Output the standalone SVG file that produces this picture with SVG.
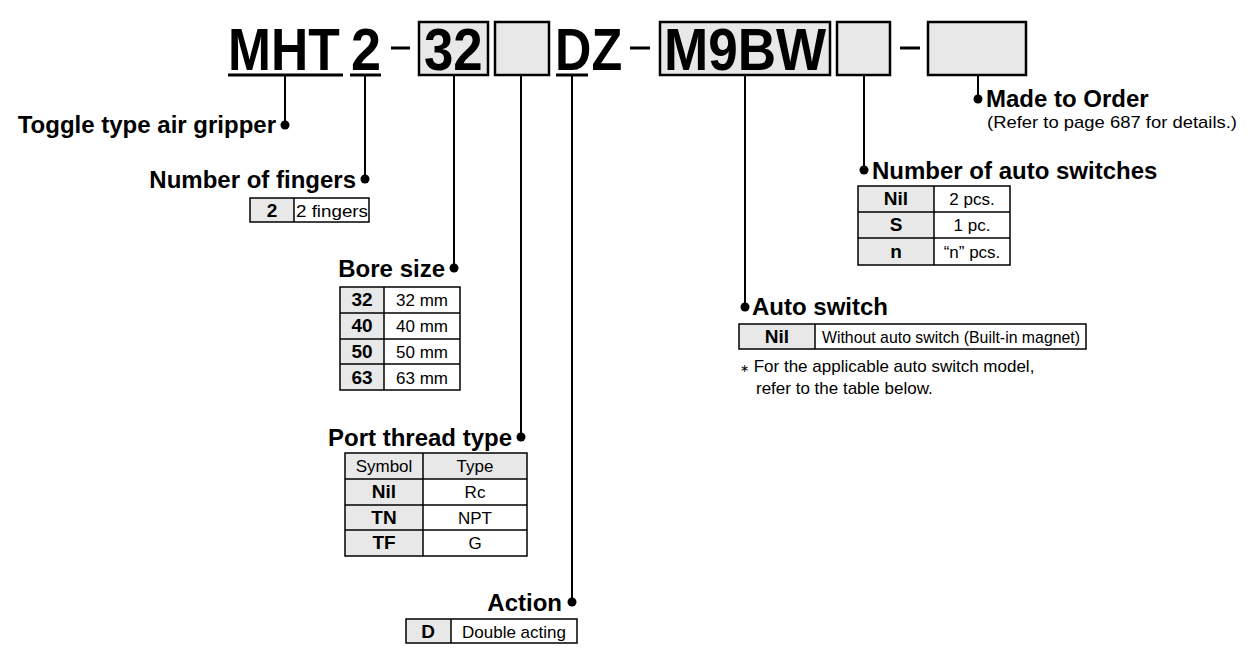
<svg xmlns="http://www.w3.org/2000/svg" width="1251" height="654" viewBox="0 0 1251 654">
<style>
.code{font-family:"Liberation Sans",Arial,sans-serif;font-weight:bold;font-size:60px;fill:#000}
.lbl{font-family:"Liberation Sans",Arial,sans-serif;font-weight:bold;font-size:24px;fill:#000}
.cb{font-family:"Liberation Sans",Arial,sans-serif;font-weight:bold;font-size:19px;fill:#000;text-anchor:middle}
.cr{font-family:"Liberation Sans",Arial,sans-serif;font-size:17px;fill:#000;text-anchor:middle}
.note{font-family:"Liberation Sans",Arial,sans-serif;font-size:17px;fill:#000}
.box{fill:#e8e8e8;stroke:#000;stroke-width:2.5}
.g{fill:#e8e8e8}
.tb{fill:none;stroke:#000;stroke-width:1.5}
.ln{stroke:#000;stroke-width:2;fill:none}
.ul{stroke:#000;stroke-width:3}
.dot{fill:#000}
</style>
<rect width="1251" height="654" fill="#fff"/>
<g id="code">
<text class="code" transform="translate(228,70) scale(0.86,1)">MHT</text>
<line class="ul" x1="228" y1="75" x2="343" y2="75"/>
<text class="code" transform="translate(351,70) scale(0.9,1)">2</text>
<line class="ul" x1="350" y1="75" x2="381" y2="75"/>
<line class="ul" x1="391" y1="48" x2="410" y2="48"/>
<rect class="box" x="419" y="22" width="69" height="53"/>
<text class="code" transform="translate(424,70) scale(0.88,1)">32</text>
<rect class="box" x="495" y="22" width="54" height="53"/>
<text class="code" transform="translate(555,70) scale(0.84,1)">DZ</text>
<line class="ul" x1="556" y1="75" x2="588" y2="75"/>
<line class="ul" x1="630" y1="48" x2="650" y2="48"/>
<rect class="box" x="660" y="22" width="170" height="53"/>
<text class="code" transform="translate(664,70) scale(0.885,1)">M9BW</text>
<rect class="box" x="837" y="22" width="53" height="53"/>
<line class="ul" x1="900" y1="48" x2="920" y2="48"/>
<rect class="box" x="928" y="22" width="98" height="53"/>
</g>
<g id="connectors">
<line class="ln" x1="285" y1="76" x2="285" y2="125"/><circle class="dot" cx="285" cy="125" r="4.5"/>
<line class="ln" x1="365" y1="76" x2="365" y2="179"/><circle class="dot" cx="365" cy="179" r="4.5"/>
<line class="ln" x1="454" y1="76" x2="454" y2="268"/><circle class="dot" cx="454" cy="268" r="4.5"/>
<line class="ln" x1="521" y1="76" x2="521" y2="437"/><circle class="dot" cx="521" cy="437" r="4.5"/>
<line class="ln" x1="572" y1="76" x2="572" y2="602"/><circle class="dot" cx="572" cy="602" r="4.5"/>
<line class="ln" x1="745" y1="76" x2="745" y2="307"/><circle class="dot" cx="745" cy="307" r="4.5"/>
<line class="ln" x1="864" y1="76" x2="864" y2="170"/><circle class="dot" cx="864" cy="170" r="4.5"/>
<line class="ln" x1="978" y1="76" x2="978" y2="99"/><circle class="dot" cx="978" cy="99" r="4.5"/>
</g>
<g id="toggle">
<text class="lbl" x="276" y="133" text-anchor="end">Toggle type air gripper</text>
</g>
<g id="fingers">
<text class="lbl" x="356" y="188" text-anchor="end">Number of fingers</text>
<rect class="g" x="250" y="198" width="44" height="24"/>
<rect class="tb" x="250" y="198" width="119" height="24"/>
<line class="tb" x1="294" y1="198" x2="294" y2="222"/>
<text class="cb" x="272" y="217">2</text>
<text class="cr" x="332" y="217" textLength="72" lengthAdjust="spacingAndGlyphs">2 fingers</text>
</g>
<g id="bore">
<text class="lbl" x="445" y="277" text-anchor="end">Bore size</text>
<rect class="g" x="340" y="287" width="44" height="103"/>
<rect class="tb" x="340" y="287" width="120" height="103"/>
<line class="tb" x1="384" y1="287" x2="384" y2="390"/>
<line class="tb" x1="340" y1="313" x2="460" y2="313"/>
<line class="tb" x1="340" y1="339" x2="460" y2="339"/>
<line class="tb" x1="340" y1="364" x2="460" y2="364"/>
<text class="cb" x="362" y="306">32</text><text class="cr" x="422" y="306">32 mm</text>
<text class="cb" x="362" y="332">40</text><text class="cr" x="422" y="332">40 mm</text>
<text class="cb" x="362" y="358">50</text><text class="cr" x="422" y="358">50 mm</text>
<text class="cb" x="362" y="384">63</text><text class="cr" x="422" y="384">63 mm</text>
</g>
<g id="port">
<text class="lbl" x="512" y="446" text-anchor="end">Port thread type</text>
<rect class="g" x="345" y="453" width="182" height="26"/>
<rect class="g" x="345" y="479" width="78" height="77"/>
<rect class="tb" x="345" y="453" width="182" height="103"/>
<line class="tb" x1="423" y1="453" x2="423" y2="556"/>
<line class="tb" x1="345" y1="479" x2="527" y2="479"/>
<line class="tb" x1="345" y1="505" x2="527" y2="505"/>
<line class="tb" x1="345" y1="530" x2="527" y2="530"/>
<text class="cr" x="384" y="472">Symbol</text><text class="cr" x="475" y="472">Type</text>
<text class="cb" x="384" y="498">Nil</text><text class="cr" x="475" y="498">Rc</text>
<text class="cb" x="384" y="524">TN</text><text class="cr" x="475" y="524">NPT</text>
<text class="cb" x="384" y="549">TF</text><text class="cr" x="475" y="549">G</text>
</g>
<g id="action">
<text class="lbl" x="562" y="611" text-anchor="end">Action</text>
<rect class="g" x="406" y="619" width="45" height="24"/>
<rect class="tb" x="406" y="619" width="171" height="24"/>
<line class="tb" x1="451" y1="619" x2="451" y2="643"/>
<text class="cb" x="428" y="638">D</text>
<text class="cr" x="514" y="638">Double acting</text>
</g>
<g id="autoswitch">
<text class="lbl" x="752" y="315">Auto switch</text>
<rect class="g" x="739" y="324" width="76" height="25"/>
<rect class="tb" x="739" y="324" width="347" height="25"/>
<line class="tb" x1="815" y1="324" x2="815" y2="349"/>
<text class="cb" x="777" y="343">Nil</text>
<text class="cr" x="951" y="343" textLength="258" lengthAdjust="spacingAndGlyphs">Without auto switch (Built-in magnet)</text>
<text class="note" x="740" y="372"><tspan font-size="11">∗</tspan> For the applicable auto switch model,</text>
<text class="note" x="756" y="394">refer to the table below.</text>
</g>
<g id="numswitches">
<text class="lbl" x="872" y="179">Number of auto switches</text>
<rect class="g" x="858" y="186" width="76" height="79"/>
<rect class="tb" x="858" y="186" width="152" height="79"/>
<line class="tb" x1="934" y1="186" x2="934" y2="265"/>
<line class="tb" x1="858" y1="212" x2="1010" y2="212"/>
<line class="tb" x1="858" y1="238" x2="1010" y2="238"/>
<text class="cb" x="896" y="205">Nil</text><text class="cr" x="972" y="205">2 pcs.</text>
<text class="cb" x="896" y="231">S</text><text class="cr" x="972" y="231">1 pc.</text>
<text class="cb" x="896" y="258">n</text><text class="cr" x="972" y="258">“n” pcs.</text>
</g>
<g id="mto">
<text class="lbl" x="986" y="107">Made to Order</text>
<text class="note" x="987" y="128" textLength="250" lengthAdjust="spacingAndGlyphs">(Refer to page 687 for details.)</text>
</g>
</svg>
